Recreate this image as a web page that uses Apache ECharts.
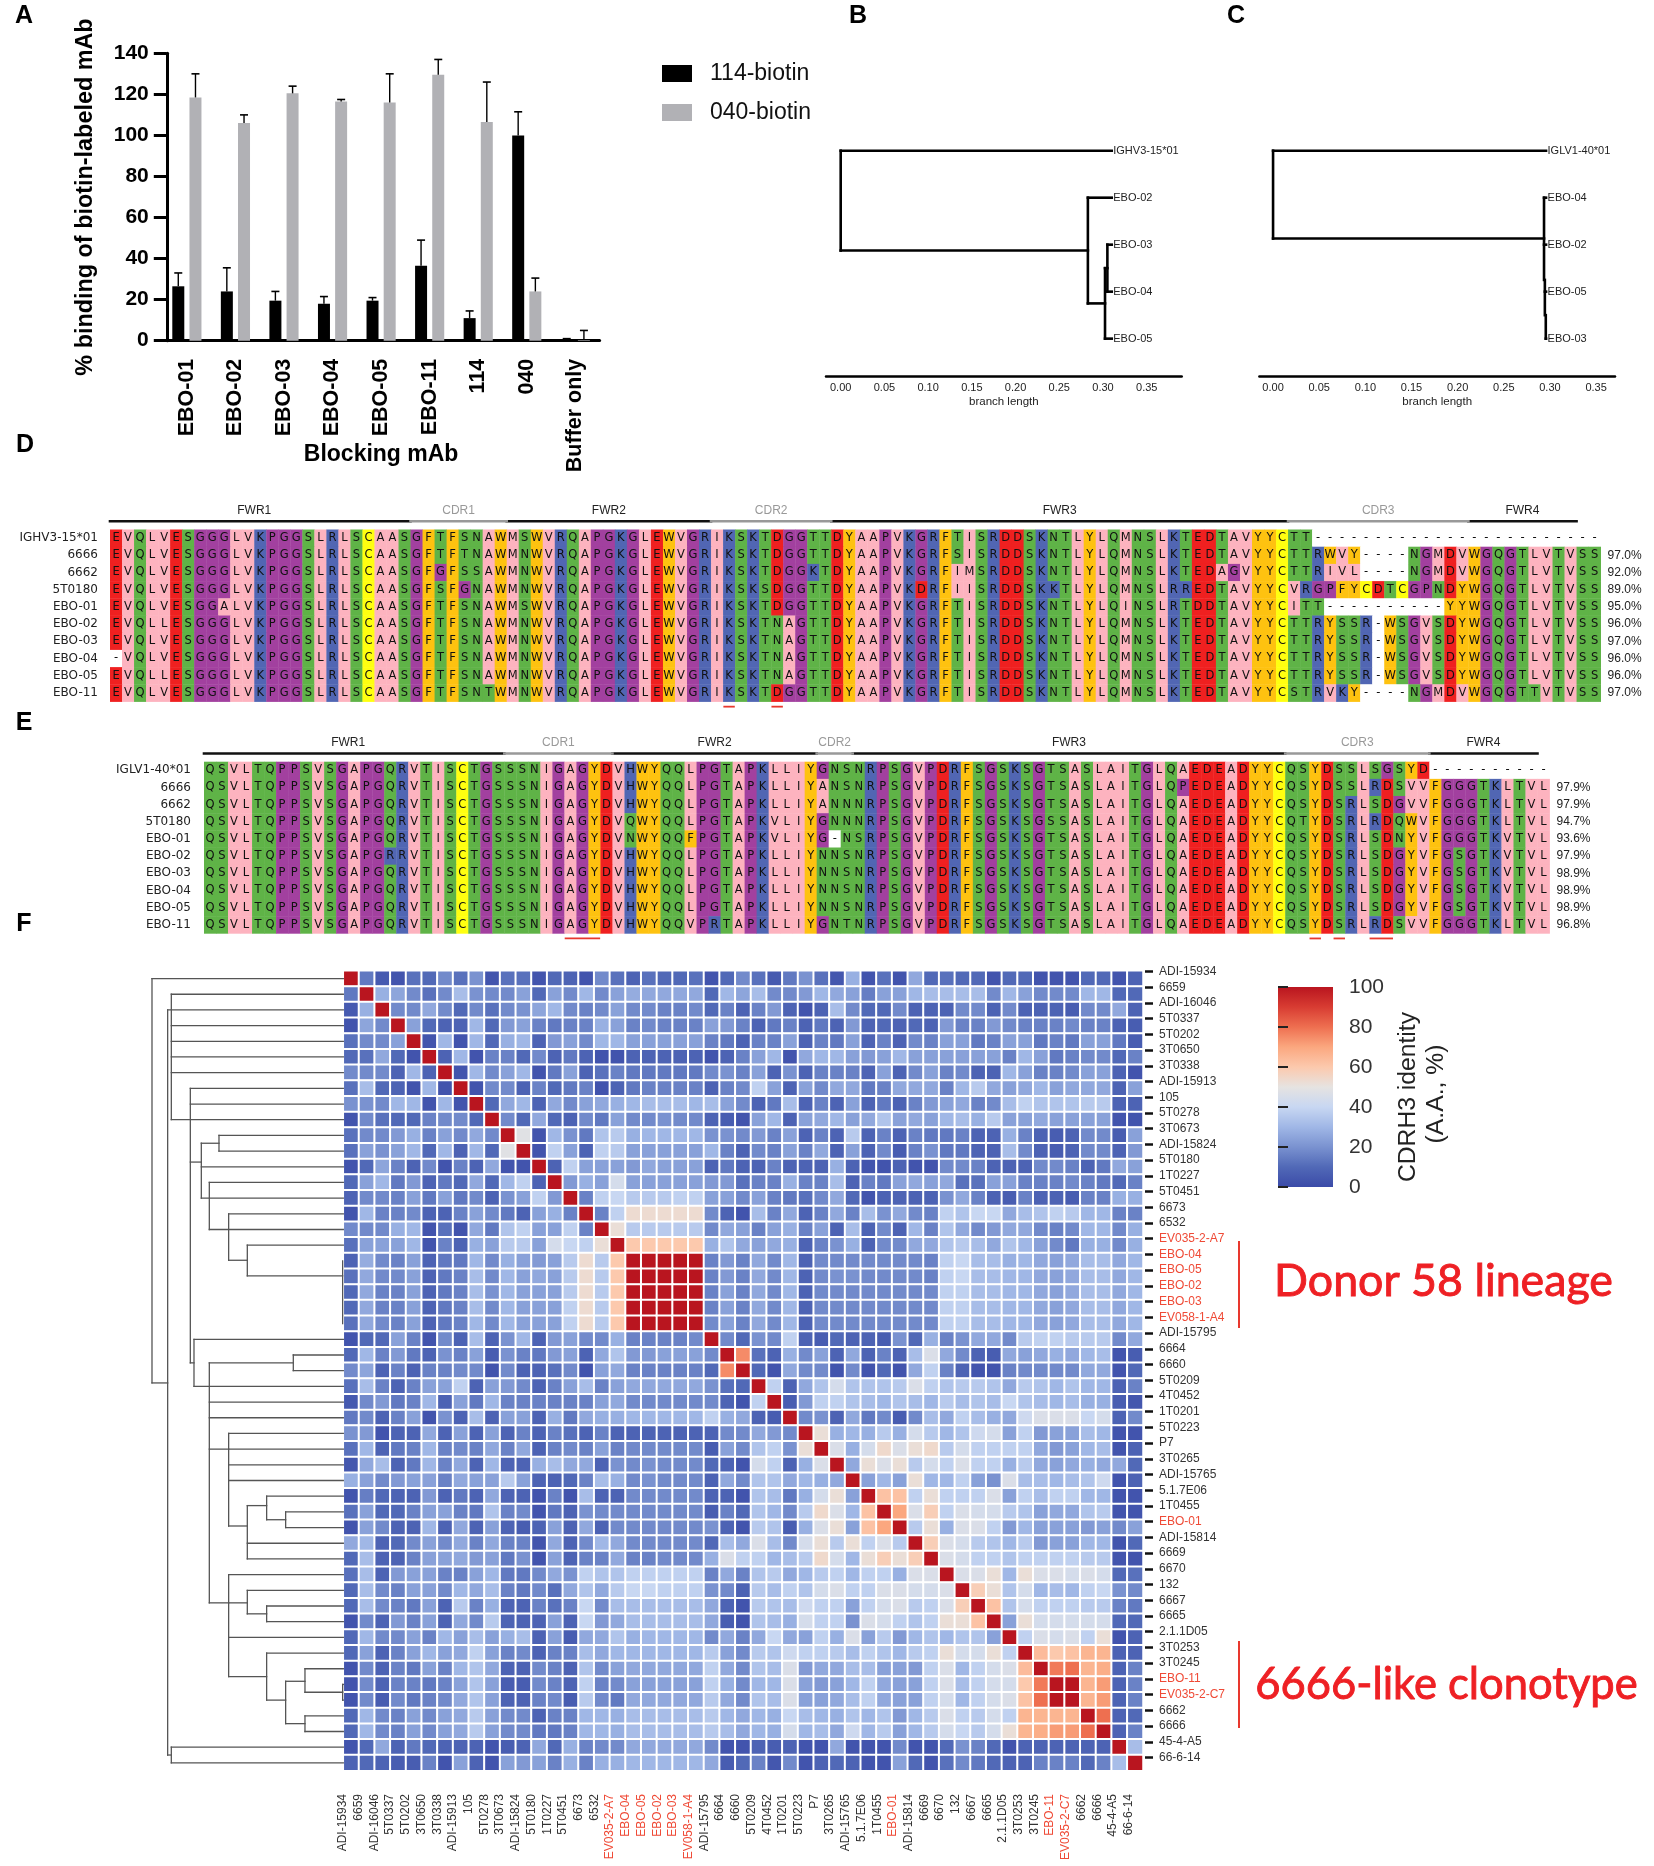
<!DOCTYPE html>
<html><head><meta charset="utf-8">
<style>html,body{margin:0;padding:0;background:#fff}#c{width:1654px;height:1866px}</style>
<script src="https://cdn.jsdelivr.net/npm/echarts@6/dist/echarts.min.js"></script>
</head><body><div id="c"></div>
<script>
// ---------- Panel A ----------
const barCategories=['EBO-01','EBO-02','EBO-03','EBO-04','EBO-05','EBO-11','114','040','Buffer only'];
const bind114=[26.5,24,19.5,18,19.5,36.5,11,100,0.8];
const bind040=[118.5,106,120.5,116.5,116,129.5,106.5,24,0.3];
const errTop114=[33,35.5,24,21.5,21,49,14.5,111.5,1];
const errTop040=[130,110,124,117.5,130,137,126,30.5,5];
// ---------- Panels B, C: [x1,row1,x2,row2] ----------
const treeBSegs=[[0,0,0,2.125],[0,0,0.31,0],[0,2.125,0.2827,2.125],[0.2827,1,0.2827,3.25],[0.2827,1,0.31,1],[0.2827,3.25,0.3023,3.25],[0.3023,2.5,0.3023,4],[0.3023,4,0.31,4],[0.3023,2.5,0.305,2.5],[0.305,2,0.305,3],[0.305,2,0.31,2],[0.305,3,0.31,3]];
const treeBLeaves=[[0.31,0,'IGHV3-15*01'],[0.31,1,'EBO-02'],[0.31,2,'EBO-03'],[0.31,3,'EBO-04'],[0.31,4,'EBO-05']];
const treeCSegs=[[0,0,0,1.87],[0,0,0.2958,0],[0,1.87,0.2936,1.87],[0.2936,1,0.2936,2.75],[0.2936,1,0.2958,1],[0.2945,2.75,0.2945,3.5],[0.2955,3.5,0.2955,4],[0.2936,2,0.2958,2],[0.2945,3,0.2958,3],[0.2955,4,0.2958,4]];
const treeCLeaves=[[0.2958,0,'IGLV1-40*01'],[0.2958,1,'EBO-04'],[0.2958,2,'EBO-02'],[0.2958,3,'EBO-05'],[0.2958,4,'EBO-03']];
const branchTicks=[0,0.05,0.1,0.15,0.2,0.25,0.3,0.35];
// ---------- Panel D ----------
const heavyNames=['IGHV3-15*01','6666','6662','5T0180','EBO-01','EBO-02','EBO-03','EBO-04','EBO-05','EBO-11'];
const heavySeqs=[
'EVQLVESGGGLVKPGGSLRLSCAASGFTFSNAWMSWVRQAPGKGLEWVGRIKSKTDGGTTDYAAPVKGRFTISRDDSKNTLYLQMNSLKTEDTAVYYCTT------------------------',
'EVQLVESGGGLVKPGGSLRLSCAASGFTFTNAWMNWVRQAPGKGLEWVGRIKSKTDGGTTDYAAPVKGRFSISRDDSKNTLYLQMNSLKTEDTAVYYCTTRWVY----NGMDVWGQGTLVTVSS',
'EVQLVESGGGLVKPGGSLRLSCAASGFGFSSAWMNWVRQAPGKGLEWVGRIKSKTDGGKTDYAAPVKGRFIMSRDDSKNTLYLQMNSLKTEDAGVYYCTTRIVL----NGMDVWGQGTLVTVSS',
'EVQLVESGGGLVKPGGSLRLSCAASGFSFGNAWMNWVRQAPGKGLEWVGRIKSKSDGGTTDYAAPVKDRFIISRDDSKKTLYLQMNSLRREDTAVYYCVRGPFYCDTCGPNDYWGQGTLVTVSS',
'EVQLVESGGALVKPGGSLRLSCAASGFTFSNAWMSWVRQAPGKGLEWVGRIKSKTDGGTTDYAAPVKGRFTISRDDSKNTLYLQINSLRTDDTAVYYCITT----------YYWGQGTLVTVSS',
'EVQLLESGGGLVKPGGSLRLSCAASGFTFSNAWMNWVRQAPGKGLEWVGRIKSKTNAGTTDYAAPVKGRFTISRDDSKNTLYLQMNSLKTEDTAVYYCTTRYSSR-WSGVSDYWGQGTLVTVSS',
'EVQLVESGGGLVKPGGSLRLSCAASGFTFSNAWMNWVRQAPGKGLEWVGRIKSKTNAGTTDYAAPVKGRFTISRDDSKNTLYLQMNSLKTEDTAVYYCTTRYSSR-WSGVSDYWGQGTLVTVSS',
'-VQLVESGGGLVKPGGSLRLSCAASGFTFSNAWMNWVRQAPGKGLEWVGRIKSKTNAGTTDYAAPVKGRFTISRDDSKNTLYLQMNSLKTEDTAVYYCTTRYSSR-WSGVSDYWGQGTLVTVSS',
'EVQLLESGGGLVKPGGSLRLSCAASGFTFSNAWMNWVRQAPGKGLEWVGRIKSKTNAGTTDYAAPVKGRFTISRDDSKNTLYLQMNSLKTEDTAVYYCTTRYSSR-WSGVSDYWGQGTLVTVSS',
'EVQLVESGGGLVKPGGSLRLSCAASGFTFSNTWMNWVRQAPGKGLEWVGRIKSKTDGGTTDYAAPVKGRFTISRDDSKNTLYLQMNSLKTEDTAVYYCSTRVKY----NGMDVWGQGTTVTVSS'];
const heavyPct=['','97.0%','92.0%','89.0%','95.0%','96.0%','97.0%','96.0%','96.0%','97.0%'];
const heavyRegions=[['FWR1',0,25,12],['CDR1',25,33,29],['FWR2',33,50,41.5],['CDR2',50,60,55],['FWR3',60,98,79],['CDR3',98,113,105.5],['FWR4',113,122,117.5]];
const heavyMarks=[[51,52],[55,56]];
// ---------- Panel E ----------
const lightNames=['IGLV1-40*01','6666','6662','5T0180','EBO-01','EBO-02','EBO-03','EBO-04','EBO-05','EBO-11'];
const lightSeqs=[
'QSVLTQPPSVSGAPGQRVTISCTGSSSNIGAGYDVHWYQQLPGTAPKLLIYGNSNRPSGVPDRFSGSKSGTSASLAITGLQAEDEADYYCQSYDSSLSGSYD----------',
'QSVLTQPPSVSGAPGQRVTISCTGSSSNIGAGYDVHWYQQLPGTAPKLLIYANSNRPSGVPDRFSGSKSGTSASLAITGLQPEDEADYYCQSYDSSLRDSVVFGGGTKLTVL',
'QSVLTQPPSVSGAPGQRVTISCTGSSSNIGAGYDVHWYQQLPGTAPKLLIYANNNRPSGVPDRFSGSKSGTSASLAITGLQAEDEADYYCQSYDSRLSDGVVFGGGTKLTVL',
'QSVLTQPPSVSGAPGQRVTISCTGSSSNIGAGYDVQWYQQLPGTAPKVLIYGNNNRPSGVPDRFSGSKSGSSASLAITGLQAEDEADYYCQTYDSRLRDQWVFGGGTKLTVL',
'QSVLTQPPSVSGAPGQRVTISCTGSSSNIGAGYDVNWYQQFPGTAPKVLIYG-NSRPSGVPDRFSGSKSGTSASLAITGLQAEDEADYYCQSYDSRLSDNYVFGGGTKVTVL',
'QSVLTQPPSVSGAPGRRVTISCTGSSSNIGAGYDVHWYQQLPGTAPKLLIYNNSNRPSGVPDRFSGSKSGTSASLAITGLQAEDEADYYCQSYDSRLSDGYVFGSGTKVTVL',
'QSVLTQPPSVSGAPGQRVTISCTGSSSNIGAGYDVHWYQQLPGTAPKLLIYNNSNRPSGVPDRFSGSKSGTSASLAITGLQAEDEADYYCQSYDSRLSDGYVFGSGTKVTVL',
'QSVLTQPPSVSGAPGQRVTISCTGSSSNIGAGYDVHWYQQLPGTAPKLLIYNNSNRPSGVPDRFSGSKSGTSASLAITGLQAEDEADYYCQSYDSRLSDGYVFGSGTKVTVL',
'QSVLTQPPSVSGAPGQRVTISCTGSSSNIGAGYDVHWYQQLPGTAPKLLIYNNSNRPSGVPDRFSGSKSGTSASLAITGLQAEDEADYYCQSYDSRLSDGYVFGSGTKVTVL',
'QSVLTQPPSVSGAPGQRVTISCTGSSSNIGAGYDVHWYQQVPRTAPKLLIYGNTNRPSGVPDRFSGSKSGTSASLAITGLQAEDEADYYCQSYDSRLRDSVVFGGGTKLTVL'];
const lightPct=['','97.9%','97.9%','94.7%','93.6%','97.9%','98.9%','98.9%','98.9%','96.8%'];
const lightRegions=[['FWR1',0,25,12],['CDR1',25,34,29.5],['FWR2',34,51,42.5],['CDR2',51,54,52.5],['FWR3',54,90,72],['CDR3',90,102,96],['FWR4',102,111,106.5]];
const lightMarks=[[30,33],[92,93],[94,95],[97,99]];
const residueGroups={'#fdb3bf':'AILMV','#5fb347':'NQST','#a2409f':'GP','#5166b3':'HKR','#ef2020':'DE','#fec210':'FWY','#ffff10':'C','#ffffff':'-'};
// ---------- Panel F ----------
const heatNames=['ADI-15934','6659','ADI-16046','5T0337','5T0202','3T0650','3T0338','ADI-15913','105','5T0278','3T0673','ADI-15824','5T0180','1T0227','5T0451','6673','6532','EV035-2-A7','EBO-04','EBO-05','EBO-02','EBO-03','EV058-1-A4','ADI-15795','6664','6660','5T0209','4T0452','1T0201','5T0223','P7','3T0265','ADI-15765','5.1.7E06','1T0455','EBO-01','ADI-15814','6669','6670','132','6667','6665','2.1.1D05','3T0253','3T0245','EBO-11','EV035-2-C7','6662','6666','45-4-A5','66-6-14'];
const redNames=['EV035-2-A7','EBO-04','EBO-05','EBO-02','EBO-03','EV058-1-A4','EBO-01','EBO-11','EV035-2-C7'];
const identityUpper=[
[14,5,3,12,10,18,12,20,3,12,12,3,10,8,3,18,12,8,12,10,10,12,3,10,18,12,5,14,20,12,4,28,3,12,3,26,10,12,10,10,3,10,10,3,3,3,10,10,3,8],
[28,25,18,12,18,32,20,18,18,24,10,24,18,30,18,24,27,26,26,26,26,10,30,25,32,18,18,22,30,26,24,15,24,24,30,32,32,32,32,18,30,24,18,18,18,30,30,10,10],
[18,18,26,18,10,18,12,18,20,25,30,18,16,18,24,18,18,16,16,18,10,16,8,16,22,8,3,8,32,18,10,10,18,8,8,8,18,18,8,18,8,8,8,6,18,18,26,8],
[24,10,8,8,30,10,22,24,16,14,16,16,28,24,16,18,16,16,16,24,22,16,8,14,16,8,14,8,22,8,10,8,10,8,22,16,16,22,18,16,16,16,18,16,16,8,6],
[3,30,3,30,10,28,30,8,22,24,18,30,30,24,24,24,24,24,16,14,8,16,16,24,8,16,14,24,8,16,8,18,16,24,24,14,16,24,24,14,16,14,24,24,14,6],
[8,30,3,16,16,10,18,8,14,8,3,3,8,8,8,8,8,3,8,16,24,30,3,26,30,30,24,22,24,30,24,24,24,24,24,24,16,30,24,14,16,18,18,10,16],
[3,30,18,24,30,3,14,24,8,12,16,14,14,14,14,14,18,20,16,24,8,20,8,16,16,16,8,24,8,18,24,16,18,8,8,30,24,16,16,18,24,24,8,3],
[3,18,18,8,16,10,14,16,3,8,14,16,16,16,16,8,16,18,38,24,8,24,18,26,26,14,16,26,26,26,16,30,36,26,24,26,30,24,26,26,26,8,24],
[10,26,30,8,26,18,24,26,28,30,32,32,32,30,32,24,18,8,14,32,8,16,8,24,8,14,8,16,22,24,26,16,18,32,38,34,34,34,36,36,8,8],
[18,10,26,10,8,18,14,24,18,18,20,18,18,8,6,3,24,30,8,24,26,30,24,26,34,24,26,24,30,32,28,36,24,24,26,24,24,24,24,3,3],
[48,3,30,20,14,34,36,28,30,30,30,30,20,20,18,22,16,24,8,16,8,36,8,16,8,16,14,14,16,8,8,28,16,8,6,8,18,18,6,24],
[3,38,24,8,38,36,24,24,24,24,24,30,16,8,18,16,24,16,26,8,24,8,18,6,16,20,14,14,8,8,32,18,8,6,8,18,18,8,22],
[8,38,24,24,24,22,26,24,24,24,8,14,8,8,16,8,8,8,28,8,3,3,8,3,3,18,18,16,8,8,8,18,18,16,8,14,26,24],
[22,28,24,44,24,24,24,24,24,22,22,12,16,16,28,16,16,32,8,16,14,24,26,24,26,12,12,24,24,16,16,16,18,16,14,10,16],
[16,38,40,36,36,36,38,38,24,24,18,24,16,14,12,18,26,10,3,8,8,8,8,20,26,16,8,6,16,8,8,6,16,16,28,28],
[16,38,53,53,53,53,53,18,8,3,32,16,26,8,16,26,16,32,20,26,18,16,38,34,40,40,26,32,34,38,36,30,30,16,16],
[52,36,36,36,36,36,18,26,24,16,24,28,16,24,8,32,8,18,8,30,16,34,26,18,22,26,26,18,16,18,30,30,18,28],
[60,60,60,60,60,28,34,26,24,26,28,8,16,20,28,8,18,18,26,26,34,36,32,26,34,30,24,18,14,28,28,18,28],
[100,100,100,100,16,22,16,26,18,30,8,18,18,18,18,18,18,18,16,38,40,32,32,28,30,26,24,26,32,32,26,30],
[100,100,100,16,22,16,26,18,30,8,18,20,20,18,18,18,18,16,38,40,32,32,30,30,26,24,26,32,32,26,30],
[100,100,16,24,16,26,18,30,8,18,18,18,18,18,18,18,18,38,38,32,32,30,30,26,24,26,32,32,26,30],
[100,16,24,16,26,18,30,8,18,18,18,18,18,18,18,18,38,38,32,32,30,30,26,24,26,32,32,26,30],
[18,24,16,26,18,30,8,18,18,18,18,18,18,18,18,38,38,32,32,30,30,26,24,26,32,32,26,30],
[18,10,20,18,38,8,6,10,8,8,6,20,10,28,16,20,26,26,18,36,38,38,36,36,36,18,26],
[75,12,8,28,18,24,8,26,8,16,8,32,46,26,18,8,6,26,24,26,28,26,30,32,3,6],
[10,3,26,18,18,3,18,3,10,3,26,38,16,8,3,3,16,18,18,18,18,26,26,3,10],
[38,8,26,34,44,34,34,34,36,46,38,34,36,36,34,26,36,34,30,34,30,30,8,16],
[6,22,38,38,34,32,30,34,32,30,36,32,34,32,40,34,32,30,32,28,28,6,4],
[18,20,8,26,14,18,6,18,32,26,38,32,28,26,42,46,46,46,40,44,8,18],
[52,28,30,28,36,28,44,36,30,34,42,44,24,38,22,24,24,32,30,3,3],
[46,28,44,54,46,52,54,36,44,38,38,38,38,26,22,24,30,32,3,8],
[26,52,46,52,36,44,38,46,38,38,28,36,26,24,26,28,26,26,10],
[24,30,24,52,30,30,38,24,20,46,32,32,30,32,34,42,3,8],
[62,62,38,52,38,38,38,46,24,38,32,38,38,30,30,3,3],
[70,46,58,38,46,44,44,36,34,24,26,26,34,36,3,3],
[36,52,28,46,46,38,22,30,24,24,24,22,24,18,24],
[58,46,44,36,34,30,36,22,24,24,30,30,3,10],
[46,44,38,38,34,38,38,38,38,36,36,3,3],
[46,46,52,30,52,46,46,44,46,44,10,12],
[58,52,34,44,30,32,30,38,40,20,18],
[62,34,44,38,38,38,36,36,16,14],
[24,52,44,44,44,44,44,10,10],
[38,46,44,46,38,52,3,8],
[64,60,62,66,66,8,8],
[78,80,66,68,8,16],
[100,66,72,8,16],
[66,72,8,16],
[80,8,10],
[8,16],
[32]];
const identityStops=['#3b4ba8','#5169b7','#7a92d0','#a0b7e6','#c8d7f2','#e6e3e1','#fcc9ad','#fba77f','#ee6f50','#d83c32','#b9151f'];
const identityTicks={min:0,max:100,interval:20};
// dendrogram segments: [depth1,row1,depth2,row2]; depth runs 0..640 left to right
const dendroSegs=[
[66,0,66,25.78],[66,0,640,0],[66,25.78,113,25.78],[113,2,113,49.5],[113,49.5,124,49.5],[124,49,124,50],[124,49,640,49],[124,50,640,50],
[113,2,640,2],[124,1,124,9],[124,1,640,1],[124,3,640,3],[124,4,640,4],[124,5,640,5],[124,6,640,6],[124,9,640,9],
[181,7,181,24.5],[181,7,640,7],[181,8,640,8],[181,11.7,214,11.7],[214,10.5,214,14],[214,10.5,267,10.5],[267,10,267,11],[267,10,640,10],[267,11,640,11],[214,12,640,12],[214,14,640,14],
[238,13,238,16],[238,13,640,13],[238,16,640,16],[296,15,296,17.96],[296,15,640,15],[296,17.96,352,17.96],[352,17,352,18.95],[352,17,640,17],[352,18.95,638,18.95],[638,18,638,22],
[181,24.5,192,24.5],[192,23,192,26],[192,23,640,23],[192,26,640,26],[238,24.5,238,39.8],[238,24.5,490,24.5],[490,24,490,25],[490,24,640,24],[490,25,640,25],
[238,27,640,27],[238,28,640,28],[238,30,296,30],[296,29,296,34.9],[296,29,640,29],[296,30,640,30],[296,31,640,31],[296,32,640,32],[296,34.9,352,34.9],[352,33.6,352,37],[352,36,640,36],[352,37,640,37],[352,33.6,410,33.6],[410,33,410,34.5],[410,33,640,33],[410,34.5,467,34.5],[467,34,467,35],[467,34,640,34],[467,35,640,35],
[238,39.8,296,39.8],[296,38,296,44.5],[296,38,640,38],[296,39.8,352,39.8],[352,39,352,40.5],[352,39,640,39],[352,40.5,410,40.5],[410,40,410,41],[410,40,640,40],[410,41,640,41],[296,42,640,42],
[296,44.5,410,44.5],[410,43,410,46],[410,43,640,43],[410,46,467,46],[467,44.8,467,47.5],[467,44.8,525,44.8],[525,44,525,45.5],[525,44,640,44],[525,45.5,638,45.5],[638,45,638,46],[638,45,640,45],[638,46,640,46],[467,47.5,525,47.5],[525,47,525,48],[525,47,640,47],[525,48,640,48]];

// ---------- helpers ----------
const residueColor={};Object.keys(residueGroups).forEach(c=>{for(const r of residueGroups[c])residueColor[r]=c;});
const grid=[],xAxis=[],yAxis=[],series=[];
function addGrid(g,x,y){grid.push(g);const gi=grid.length-1;const xs=[].concat(x),ys=[].concat(y);
  const xi=xs.map(a=>{xAxis.push(Object.assign({gridIndex:gi},a));return xAxis.length-1;});
  const yi=ys.map(a=>{yAxis.push(Object.assign({gridIndex:gi},a));return yAxis.length-1;});
  return {x:xi[0],y:yi[0]};}
const hidden={show:false};
function segSeries(ax,segs,color,width){series.push({type:'custom',xAxisIndex:ax.x,yAxisIndex:ax.y,silent:true,data:segs,encode:{x:[0,2],y:[1,3]},
  renderItem:(p,api)=>{const a=api.coord([api.value(0),api.value(1)]),b=api.coord([api.value(2),api.value(3)]);
    return {type:'line',shape:{x1:a[0],y1:a[1],x2:b[0],y2:b[1]},style:{stroke:color,lineWidth:width,lineCap:'square'}};}});}
function labelSeries(ax,items,font,colorFn,align,dx){series.push({type:'custom',xAxisIndex:ax.x,yAxisIndex:ax.y,silent:true,data:items.map(d=>[d[0],d[1]]),encode:{x:0,y:1},
  renderItem:(p,api)=>{const a=api.coord([api.value(0),api.value(1)]);const d=items[p.dataIndex];
    return {type:'text',style:{x:a[0]+(dx||0),y:a[1],text:d[2],align:align,verticalAlign:'middle',font:font,fill:colorFn(d)}};}});}

// Panel A
const aAx=addGrid({left:162.6,top:53.3,width:437,height:287.4},
 {type:'category',data:barCategories,axisLine:{lineStyle:{color:'#000',width:3}},axisTick:{length:12,lineStyle:{color:'#000',width:3}},
  axisLabel:{rotate:90,interval:0,margin:18,color:'#000',fontFamily:'Liberation Sans',fontWeight:'bold',fontSize:21.5},
  name:'Blocking mAb',nameLocation:'middle',nameGap:102,nameMoveOverlap:false,nameTextStyle:{color:'#000',fontFamily:'Liberation Sans',fontWeight:'bold',fontSize:23}},
 {type:'value',min:0,max:140,interval:20,offset:-4.2,splitLine:hidden,axisLine:{show:true,lineStyle:{color:'#000',width:3}},axisTick:{show:true,length:13,lineStyle:{color:'#000',width:3}},
  axisLabel:{margin:18,color:'#000',fontFamily:'Liberation Sans',fontWeight:'bold',fontSize:21},
  name:'% binding of biotin-labeled mAb',nameLocation:'middle',nameRotate:90,nameGap:70,nameTextStyle:{color:'#000',fontFamily:'Liberation Sans',fontWeight:'bold',fontSize:23.4}});
series.push({type:'bar',name:'114-biotin',xAxisIndex:aAx.x,yAxisIndex:aAx.y,data:bind114,barWidth:12,barGap:'43%',itemStyle:{color:'#000'},z:1});
series.push({type:'bar',name:'040-biotin',xAxisIndex:aAx.x,yAxisIndex:aAx.y,data:bind040,barWidth:12,itemStyle:{color:'#b1b1b5'},z:1});
function errSeries(vals,tops,dx){series.push({type:'custom',xAxisIndex:aAx.x,yAxisIndex:aAx.y,silent:true,z:2,data:vals.map((v,i)=>[i,v,tops[i]]),encode:{x:0,y:[1,2]},
  renderItem:(p,api)=>{const a=api.coord([api.value(0),api.value(1)]),b=api.coord([api.value(0),api.value(2)]);const x=a[0]+dx;
    return {type:'group',children:[{type:'line',shape:{x1:x,y1:a[1],x2:x,y2:b[1]},style:{stroke:'#000',lineWidth:1.4}},{type:'line',shape:{x1:x-4,y1:b[1],x2:x+4,y2:b[1]},style:{stroke:'#000',lineWidth:1.6}}]};}});}
errSeries(bind114,errTop114,-8.6);errSeries(bind040,errTop040,8.6);

// Panels B, C
function treePanel(left,width,xmin,xmax,segs,leaves){
  const ax=addGrid({left:left,top:150.7,width:width,height:226},
   {type:'value',min:xmin,max:xmax,splitLine:hidden,axisLine:{onZero:false,lineStyle:{color:'#000',width:2.5}},axisTick:hidden,
    axisLabel:{customValues:branchTicks,formatter:v=>v.toFixed(2),margin:6,color:'#222',fontFamily:'Liberation Sans',fontSize:11},
    name:'branch length',nameLocation:'middle',nameGap:19,nameTextStyle:{color:'#222',fontFamily:'Liberation Sans',fontSize:11.5}},
   {type:'value',min:0,max:4.81,inverse:true,show:false});
  segSeries(ax,segs,'#000',2.6);
  labelSeries(ax,leaves,'11px "Liberation Sans"',()=>'#222','left',1.5);
}
treePanel(826,355.7,-0.0168,0.39,treeBSegs,treeBLeaves);
treePanel(1259.4,355.6,-0.0148,0.3705,treeCSegs,treeCLeaves);

// Panels D, E
function alignPanel(g,nCols,names,seqs,pct,regions,marks,margin){
  const ax=addGrid(g,{type:'value',min:0,max:nCols,show:false},[
    {type:'value',min:0,max:10,inverse:true,show:false},
    {type:'category',data:names,inverse:true,position:'left',axisLine:hidden,axisTick:hidden,axisLabel:{interval:0,margin:margin,color:'#222',fontFamily:'DejaVu Sans',fontSize:12}},
    {type:'category',data:pct,inverse:true,position:'right',axisLine:hidden,axisTick:hidden,axisLabel:{interval:0,margin:7,color:'#222',fontFamily:'Liberation Sans',fontSize:12}}]);
  const cells=[];seqs.forEach((s,r)=>{for(let c=0;c<s.length;c++)cells.push([c,r,s[c]]);});
  series.push({type:'custom',xAxisIndex:ax.x,yAxisIndex:ax.y,silent:true,data:cells.map(d=>[d[0],d[1]]),encode:{x:0,y:1},
    renderItem:(p,api)=>{const a=api.coord([api.value(0),api.value(1)]),s=api.size([1,1]);const L=cells[p.dataIndex][2];
      return {type:'group',children:[{type:'rect',shape:{x:a[0],y:a[1],width:s[0]+.4,height:s[1]+.4},style:{fill:residueColor[L]||'#fff'}},
       {type:'text',style:{x:a[0]+s[0]/2,y:a[1]+s[1]/2,text:L,align:'center',verticalAlign:'middle',font:'11.5px "DejaVu Sans"',fill:'#111'}}]};}});
  segSeries(ax,regions.filter(r=>r[0][0]==='F').map(r=>[r[1],-0.48,r[2],-0.48]),'#111',2.6);
  segSeries(ax,regions.filter(r=>r[0][0]==='C').map(r=>[r[1],-0.48,r[2],-0.48]),'#999',2.6);
  labelSeries(ax,regions.map(r=>[r[3],-1.09,r[0]]),'12px "Liberation Sans"',d=>d[2][0]==='C'?'#999':'#222','center');
  segSeries(ax,marks.map(m=>[m[0]+.1,10.3,m[1]-.1,10.3]),'#e8382e',1.8);
}
alignPanel({left:110,top:529.5,width:1490.6,height:172},124,heavyNames,heavySeqs,heavyPct,heavyRegions,heavyMarks,12);
alignPanel({left:204,top:761.7,width:1345.5,height:171.6},112,lightNames,lightSeqs,lightPct,lightRegions,lightMarks,13);

// Panel F heatmap
const heatAx=addGrid({left:343.3,top:970.7,width:799.7,height:800},{type:'category',data:heatNames,show:false},{type:'category',data:heatNames,inverse:true,show:false});
const heatData=[];heatNames.forEach((n,i)=>{heatData.push([i,i,100]);identityUpper[i]&&identityUpper[i].forEach((v,k)=>{const j=i+k+1;heatData.push([j,i,v]);heatData.push([i,j,v]);});});
series.push({type:'heatmap',xAxisIndex:heatAx.x,yAxisIndex:heatAx.y,data:heatData,silent:true,itemStyle:{borderColor:'#fff',borderWidth:2}});
const heatIdx=series.length-1;
const nameColor=v=>redNames.includes(v)?'#ef4a36':'#333';
addGrid({left:343,top:971.5,width:785.7,height:786},
 {type:'category',data:heatNames,boundaryGap:false,position:'bottom',axisLine:hidden,axisTick:hidden,axisLabel:{rotate:90,interval:0,margin:36.5,fontFamily:'Liberation Sans',fontSize:12,color:nameColor}},
 {type:'category',data:heatNames,boundaryGap:false,inverse:true,position:'right',offset:16.3,axisLine:hidden,axisTick:{show:true,length:8,lineStyle:{color:'#111',width:2.5}},axisLabel:{interval:0,margin:14,fontFamily:'Liberation Sans',fontSize:12,color:nameColor}});
const dAx=addGrid({left:130,top:970.7,width:213.3,height:800},{type:'value',min:0,max:640,show:false},{type:'value',min:-0.5,max:50.5,inverse:true,show:false});
segSeries(dAx,dendroSegs,'#555',1.3);
// colour bar axis
addGrid({left:1278,top:987,width:55,height:200},{type:'value',show:false},
 {type:'value',min:identityTicks.min,max:identityTicks.max,interval:identityTicks.interval,position:'right',splitLine:hidden,axisLine:hidden,axisTick:{show:true,length:10,lineStyle:{color:'#222',width:2}},
  axisLabel:{margin:16,color:'#333',fontFamily:'Liberation Sans',fontSize:21}});

function letter(t,x,y){return {type:'text',x:x,y:y,style:{text:t,font:'bold 25px "Liberation Sans"',fill:'#000',align:'center',verticalAlign:'middle'}};}
const barStops=identityStops.map((c,i)=>({offset:i/(identityStops.length-1),color:c}));
const graphic=[letter('A',24,16),letter('B',858,16),letter('C',1236,16),letter('D',25,445),letter('E',24,723),letter('F',24,924),
 {type:'rect',shape:{x:1278,y:987,width:55,height:200},style:{fill:new echarts.graphic.LinearGradient(0,1,0,0,barStops)}},
 {type:'text',x:1408,y:1097,rotation:Math.PI/2,style:{text:'CDRH3 identity',font:'24.7px "Liberation Sans"',fill:'#222',align:'center',verticalAlign:'middle'}},
 {type:'text',x:1436,y:1094,rotation:Math.PI/2,style:{text:'(A.A., %)',font:'24.7px "Liberation Sans"',fill:'#222',align:'center',verticalAlign:'middle'}},
 {type:'line',shape:{x1:1239,y1:1241,x2:1239,y2:1328},style:{stroke:'#e8382e',lineWidth:2}},
 {type:'line',shape:{x1:1239,y1:1641,x2:1239,y2:1728},style:{stroke:'#e8382e',lineWidth:2}},
 {type:'text',x:1443.5,y:1282,style:{text:'Donor 58 lineage',font:'44.7px Lato',fill:'#ee2024',stroke:'#ee2024',lineWidth:0.9,align:'center',verticalAlign:'middle'}},
 {type:'text',x:1446.5,y:1685,style:{text:'6666-like clonotype',font:'43.5px Lato',fill:'#ee2024',stroke:'#ee2024',lineWidth:0.9,align:'center',verticalAlign:'middle'}}];

const chart=echarts.init(document.getElementById('c'),null,{width:1654,height:1866});
chart.setOption({animation:false,backgroundColor:'#fff',grid:grid,xAxis:xAxis,yAxis:yAxis,series:series,graphic:graphic,
 legend:{data:['114-biotin','040-biotin'],icon:'rect',orient:'vertical',left:662,top:62,itemWidth:30,itemHeight:17,itemGap:16,padding:0,selectedMode:false,textStyle:{fontFamily:'Liberation Sans',fontSize:23,color:'#111',padding:[0,0,0,13]},itemStyle:{borderWidth:0}},
 visualMap:{type:'continuous',show:false,min:identityTicks.min,max:identityTicks.max,dimension:2,seriesIndex:heatIdx,inRange:{color:identityStops}}});
</script></body></html>
